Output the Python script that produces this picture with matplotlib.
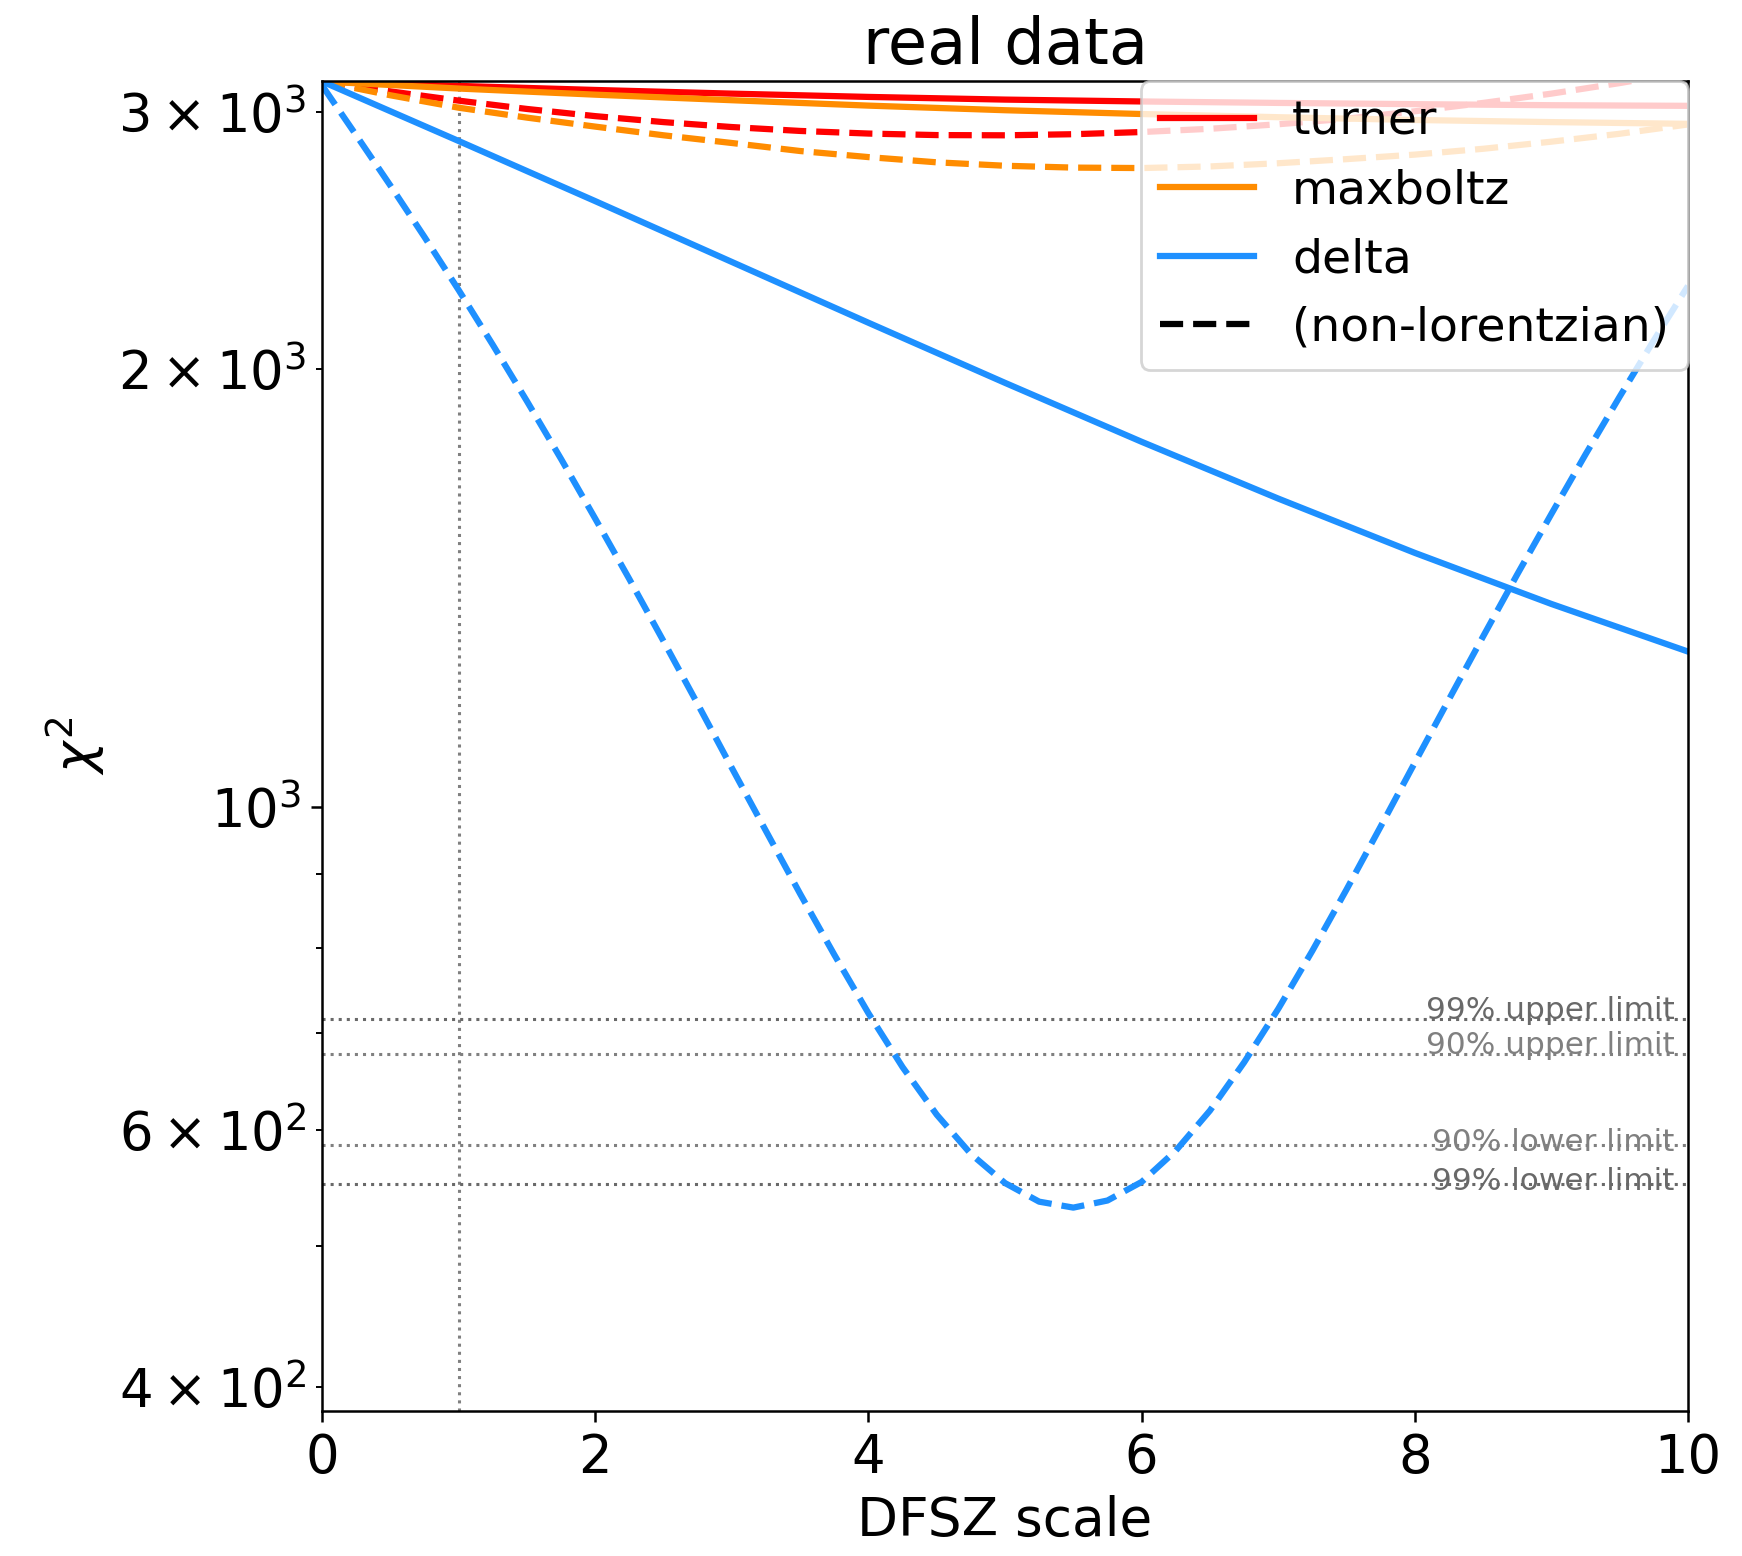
import matplotlib.pyplot as plt
from matplotlib.lines import Line2D

# DFSZ scale grids
scale = [0, 1, 2, 3, 4, 5, 6, 7, 8, 9, 10]
scale_half = [0.0, 0.5, 1.0, 1.5, 2.0, 2.5, 3.0, 3.5, 4.0, 4.5, 5.0,
              5.5, 6.0, 6.5, 7.0, 7.5, 8.0, 8.5, 9.0, 9.5, 10.0]
scale_fine = [0.0, 0.25, 0.5, 0.75, 1.0, 1.25, 1.5, 1.75, 2.0, 2.25, 2.5,
              2.75, 3.0, 3.25, 3.5, 3.75, 4.0, 4.25, 4.5, 4.75, 5.0,
              5.25, 5.5, 5.75, 6.0, 6.25, 6.5, 6.75, 7.0, 7.25, 7.5,
              7.75, 8.0, 8.25, 8.5, 8.75, 9.0, 9.25, 9.5, 9.75, 10.0]

# chi^2 vs DFSZ scale, lorentzian and non-lorentzian fits
chi2_turner = [3150, 3128, 3108, 3090, 3074, 3061, 3052, 3045, 3039, 3034, 3031]
chi2_turner_nl = [3150, 3101, 3056, 3016, 2982, 2954, 2931, 2913, 2901, 2894, 2893,
                  2898, 2908, 2923, 2944, 2970, 3005, 3045, 3090, 3142, 3200]
chi2_maxboltz = [3150, 3115, 3085, 3058, 3032, 3010, 2992, 2977, 2964, 2954, 2946]
chi2_maxboltz_nl = [3150, 3082, 3022, 2975, 2933, 2893, 2858, 2822, 2795, 2772, 2757,
                    2749, 2747, 2754, 2768, 2786, 2806, 2832, 2864, 2900, 2943]
chi2_delta = [3150, 2867, 2607, 2368, 2151, 1956, 1782, 1629, 1495, 1379, 1279]
chi2_delta_nl = [3130, 2893, 2672, 2463, 2265, 2077, 1900, 1734, 1578, 1434, 1300,
                 1177, 1064, 963, 872, 792, 722, 663, 615, 578, 552,
                 536, 531, 537, 553, 581, 619, 668, 727, 797, 878,
                 970, 1073, 1186, 1310, 1445, 1590, 1747, 1914, 2092, 2280]

# confidence limits on chi^2
limit_labels = ['99% upper limit', '90% upper limit', '90% lower limit', '99% lower limit']
limit_values = [716, 677, 586, 551]
limit_colors = ['dimgray', 'gray', 'gray', 'dimgray']
limit_offsets = [0, 0, -2, -2]

plt.rcParams['font.size'] = 16
plt.rcParams['axes.linewidth'] = 0.9
plt.rcParams['xtick.major.width'] = 0.9
plt.rcParams['ytick.major.width'] = 0.9
plt.rcParams['ytick.minor.width'] = 0.7
plt.rcParams['xtick.major.size'] = 3.9
plt.rcParams['ytick.major.size'] = 3.9
plt.rcParams['ytick.minor.size'] = 2.25

fig = plt.figure(figsize=(8.71, 7.78), dpi=200)
ax = fig.add_axes([0.1849, 0.0932, 0.7841, 0.8547])

ax.axvline(1, color='gray', linestyle=':', linewidth=1.1)
for lab, val, col, dy in zip(limit_labels, limit_values, limit_colors, limit_offsets):
    ax.axhline(val, color=col, linestyle=':', linewidth=1.1)
    ax.annotate(lab, xy=(9.9, val), xytext=(0, dy), textcoords='offset points',
                ha='right', va='baseline', fontsize=11.2, color=col)

lw = 2.25
ax.plot(scale, chi2_turner, color='red', lw=lw, label='turner')
ax.plot(scale_half, chi2_turner_nl, color='red', lw=lw, ls='--')
ax.plot(scale, chi2_maxboltz, color='darkorange', lw=lw, label='maxboltz')
ax.plot(scale_half, chi2_maxboltz_nl, color='darkorange', lw=lw, ls='--')
ax.plot(scale, chi2_delta, color='dodgerblue', lw=lw, label='delta')
ax.plot(scale_fine, chi2_delta_nl, color='dodgerblue', lw=lw, ls='--')

ax.set_yscale('log')
ax.set_xlim(0, 10)
ax.set_ylim(385, 3152)
ax.tick_params(which='both', labelsize=19)

ax.set_title('real data', fontsize=23)
ax.set_xlabel('DFSZ scale', fontsize=19.2)
ax.set_ylabel(r'$\chi^2$', fontsize=19.2)

handles, labels = ax.get_legend_handles_labels()
handles.append(Line2D([], [], color='black', lw=lw, ls='--'))
labels.append('(non-lorentzian)')
ax.legend(handles, labels, loc='upper right', borderaxespad=0, fontsize=17)

fig.savefig('out.png', dpi=200)
